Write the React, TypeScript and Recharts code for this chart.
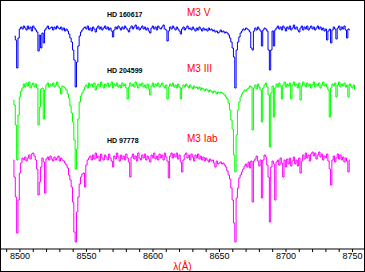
import { LineChart, Line, XAxis, YAxis } from 'recharts'

// wavelength range shown on the x axis (Angstrom)
const X_MIN = 8485
const X_MAX = 8759.4
const TICKS = [
  8490, 8500, 8510, 8520, 8530, 8540, 8550, 8560, 8570, 8580, 8590, 8600, 8610, 8620,
  8630, 8640, 8650, 8660, 8670, 8680, 8690, 8700, 8710, 8720, 8730, 8740, 8750,
]

// normalised flux, one value per Angstrom, starting at *_START
const BLUE_START = 8496
const BLUE_FLUX = [
  0.92, 0.88, 0.60, 0.90, 0.99, 1.01, 0.99, 1.02, 1.00, 0.98,
  1.02, 0.99, 1.01, 0.97, 1.02, 1.00, 0.98, 0.96, 0.77, 0.93,
  0.80, 0.95, 0.85, 0.98, 1.00, 1.02, 0.99, 1.00, 1.01, 0.98,
  1.01, 0.99, 1.02, 1.00, 0.99, 1.01, 0.98, 1.00, 0.97, 0.99,
  0.97, 0.94, 0.90, 0.86, 0.78, 0.68, 0.41, 0.66, 0.82, 0.92,
  0.96, 0.98, 1.00, 1.01, 0.99, 1.02, 0.98, 1.00, 0.97, 1.01,
  0.99, 0.96, 1.00, 1.02, 0.99, 1.01, 0.98, 1.00, 1.02, 0.99,
  1.01, 0.98, 1.00, 0.97, 0.91, 0.98, 1.01, 0.99, 1.02, 1.00,
  0.98, 1.01, 0.99, 1.02, 1.00, 0.98, 0.96, 1.00, 1.02, 0.99,
  1.01, 1.03, 0.99, 1.01, 0.98, 1.00, 1.02, 0.99, 1.01, 0.98,
  1.00, 0.97, 0.95, 1.00, 1.02, 0.99, 1.01, 0.98, 1.02, 1.00,
  0.99, 1.01, 1.03, 0.99, 0.98, 0.87, 0.97, 1.01, 0.99, 1.02,
  1.00, 0.98, 1.01, 0.99, 0.97, 0.94, 0.99, 1.01, 0.98, 1.00,
  1.02, 0.99, 1.00, 0.98, 1.01, 0.99, 0.97, 1.00, 0.98, 1.01,
  0.99, 0.97, 1.00, 0.98, 0.99, 0.97, 1.00, 0.98, 0.99, 0.97,
  0.98, 0.96, 0.97, 0.95, 0.96, 0.98, 0.96, 0.97, 0.95, 0.96,
  0.95, 0.93, 0.90, 0.86, 0.80, 0.71, 0.40, 0.78, 0.86, 0.91,
  0.95, 0.97, 0.99, 0.98, 1.00, 0.99, 0.98, 0.96, 0.80, 0.78,
  0.97, 1.00, 0.98, 1.01, 0.99, 0.97, 0.82, 0.98, 1.00, 0.99,
  0.97, 0.78, 0.58, 0.78, 0.97, 0.82, 0.98, 1.00, 1.02, 0.99,
  1.01, 0.98, 1.02, 1.00, 0.97, 1.01, 0.99, 1.02, 0.98, 1.00,
  1.03, 0.99, 1.01, 0.98, 0.96, 1.00, 1.02, 0.98, 1.01, 0.99,
  1.02, 0.98, 1.00, 1.02, 0.99, 1.01, 0.98, 1.00, 1.02, 0.99,
  1.01, 0.98, 1.00, 0.97, 0.99, 0.88, 0.97, 0.99, 0.85, 0.98,
  1.01, 0.99, 0.89, 1.00, 1.02, 0.98, 1.01, 0.99, 1.02, 0.98,
  0.90, 0.99, 0.98,
]

const GREEN_START = 8495
const GREEN_FLUX = [
  0.85, 0.80, 0.60, 0.25, 0.70, 0.88, 0.94, 0.97, 1.01, 0.98,
  1.02, 0.99, 1.03, 0.97, 1.00, 1.02, 0.98, 1.01, 0.97, 0.60,
  0.78, 0.96, 0.97, 0.66, 0.95, 1.00, 1.02, 0.98, 1.01, 0.99,
  1.02, 0.98, 1.00, 1.03, 0.99, 0.97, 0.91, 0.99, 0.98, 0.97,
  0.95, 0.91, 0.87, 0.79, 0.72, 0.63, 0.45, 0.16, 0.36, 0.66,
  0.83, 0.89, 0.92, 0.95, 0.98, 1.00, 0.97, 1.02, 0.99, 1.01,
  0.98, 1.02, 0.95, 0.99, 1.01, 0.98, 1.03, 1.00, 0.97, 1.01,
  0.99, 1.02, 0.98, 1.00, 1.03, 0.97, 1.01, 0.99, 1.02, 0.98,
  1.00, 0.97, 1.02, 0.99, 1.01, 0.97, 0.86, 0.98, 1.02, 0.99,
  1.01, 0.98, 1.03, 1.00, 0.97, 1.01, 0.99, 1.02, 0.98, 1.00,
  0.97, 1.01, 0.96, 0.90, 0.99, 1.02, 0.98, 1.01, 0.99, 1.02,
  0.98, 1.00, 1.02, 0.99, 0.97, 1.00, 0.86, 0.98, 1.01, 0.99,
  1.02, 0.98, 1.00, 0.97, 1.01, 0.98, 0.86, 0.97, 1.00, 0.98,
  1.01, 0.99, 0.97, 1.00, 0.98, 0.96, 0.99, 0.97, 0.98, 0.96,
  0.98, 0.95, 0.97, 0.96, 0.94, 0.96, 0.95, 0.93, 0.95, 0.94,
  0.92, 0.94, 0.93, 0.91, 0.93, 0.92, 0.93, 0.92, 0.91, 0.90,
  0.88, 0.86, 0.82, 0.75, 0.65, 0.56, 0.30, 0.13, 0.50, 0.75,
  0.83, 0.88, 0.91, 0.93, 0.95, 0.94, 0.96, 0.97, 0.99, 0.98,
  0.55, 0.97, 1.00, 0.96, 1.01, 0.98, 0.95, 0.63, 0.97, 1.00,
  1.02, 0.98, 0.90, 0.38, 0.92, 0.99, 0.68, 0.97, 1.01, 0.98,
  1.02, 0.99, 0.86, 1.00, 1.03, 0.98, 1.01, 0.99, 1.02, 0.86,
  1.00, 1.03, 0.99, 1.01, 0.97, 1.02, 0.85, 0.99, 1.03, 1.00,
  0.98, 1.02, 0.99, 1.01, 0.97, 1.00, 1.03, 0.98, 1.01, 0.99,
  1.02, 0.97, 1.00, 1.03, 0.99, 1.01, 0.98, 0.95, 0.68, 0.97,
  1.01, 0.99, 1.02, 0.88, 1.00, 1.03, 0.98, 1.01, 0.99, 1.02,
  0.98, 1.00, 0.88, 1.01, 0.99, 0.97, 1.00, 0.96,
]

const MAGENTA_START = 8495
const MAGENTA_FLUX = [
  0.97, 0.80, 0.60, 0.24, 0.57, 0.84, 0.94, 0.99, 0.97, 1.00,
  0.96, 0.99, 1.02, 0.98, 1.03, 1.04, 1.01, 0.97, 0.88, 0.62,
  0.75, 0.90, 0.99, 0.95, 0.64, 0.98, 1.00, 0.97, 1.01, 0.98,
  0.96, 1.00, 0.97, 0.99, 1.01, 0.96, 0.99, 0.97, 0.96, 0.94,
  0.92, 0.89, 0.82, 0.77, 0.70, 0.55, 0.25, 0.15, 0.45, 0.60,
  0.73, 0.80, 0.83, 0.84, 0.70, 0.92, 0.97, 0.99, 1.01, 0.97,
  1.02, 0.98, 1.04, 0.99, 1.01, 0.96, 1.03, 0.99, 0.97, 1.02,
  1.00, 0.97, 1.03, 0.99, 0.96, 0.90, 1.01, 0.98, 1.04, 1.00,
  0.96, 1.02, 0.98, 1.01, 0.97, 1.03, 0.99, 0.95, 0.80, 1.00,
  1.03, 0.98, 1.01, 0.96, 1.04, 0.99, 0.97, 1.02, 0.99, 1.03,
  0.97, 1.01, 0.98, 0.95, 1.02, 0.99, 1.04, 0.98, 1.01, 0.97,
  1.03, 0.99, 1.02, 0.97, 1.04, 1.00, 0.96, 0.79, 1.01, 1.04,
  0.99, 1.03, 1.00, 1.04, 0.98, 1.02, 0.95, 0.85, 0.97, 1.02,
  1.04, 0.99, 1.02, 0.97, 1.03, 1.00, 0.96, 1.02, 0.99, 1.03,
  0.98, 1.01, 0.97, 1.00, 0.96, 0.99, 0.97, 0.95, 0.98, 0.96,
  0.97, 0.94, 0.90, 0.96, 0.93, 0.94, 0.95, 0.93, 0.94, 0.92,
  0.90, 0.86, 0.82, 0.78, 0.69, 0.57, 0.34, 0.15, 0.59, 0.69,
  0.79, 0.82, 0.85, 0.88, 0.91, 0.93, 0.90, 0.95, 0.89, 0.96,
  0.55, 0.96, 0.98, 1.01, 0.96, 0.91, 0.97, 0.59, 0.97, 1.02,
  1.00, 0.92, 0.80, 0.35, 0.90, 0.96, 0.93, 0.57, 0.95, 0.97,
  0.92, 0.99, 0.94, 0.80, 0.97, 0.90, 0.98, 0.93, 0.99, 0.91,
  0.96, 1.00, 0.93, 0.97, 0.91, 0.99, 0.84, 0.96, 1.02, 0.98,
  1.04, 0.99, 1.02, 0.96, 1.03, 1.05, 1.01, 1.04, 0.98, 1.02,
  1.05, 1.00, 1.03, 0.97, 1.01, 0.99, 1.03, 0.96, 0.88, 0.72,
  0.97, 1.01, 0.95, 0.99, 1.03, 0.98, 1.02, 0.97, 1.00, 0.95,
  0.99, 0.96, 0.85, 0.97,
]

// vertical shifts so the three spectra are stacked
const BLUE_OFFSET = 1.29
const GREEN_OFFSET = 0.72
const MAGENTA_OFFSET = 0

const STARS = [
  { name: 'HD 160617', type: 'M3 V', top: 10.6, typeTop: 8 },
  { name: 'HD 204599', type: 'M3 III', top: 66.6, typeTop: 64 },
  { name: 'HD 97778', type: 'M3 Iab', top: 136.6, typeTop: 134 },
]

const pick = (arr: number[], start: number, lam: number, offset: number) => {
  const v = arr[lam - start]
  return v === undefined ? null : v + offset
}

const data: { lam: number; blue: number | null; green: number | null; magenta: number | null }[] = []
for (let lam = 8495; lam <= 8752; lam++) {
  data.push({
    lam,
    blue: pick(BLUE_FLUX, BLUE_START, lam, BLUE_OFFSET),
    green: pick(GREEN_FLUX, GREEN_START, lam, GREEN_OFFSET),
    magenta: pick(MAGENTA_FLUX, MAGENTA_START, lam, MAGENTA_OFFSET),
  })
}

const font = '"Liberation Sans", Arial, sans-serif'

export default function App() {
  return (
    <div style={{ position: 'relative', width: 365, height: 272, background: '#fff', fontFamily: font }}>
      <style>{`body{margin:0}`}</style>
      <LineChart width={365} height={272} data={data} margin={{ top: 0, right: 0, bottom: 0, left: 0 }}>
        <XAxis
          dataKey="lam"
          type="number"
          domain={[X_MIN, X_MAX]}
          allowDataOverflow
          ticks={TICKS}
          interval={0}
          tickSize={3}
          tickMargin={1}
          height={23}
          axisLine={{ stroke: '#000' }}
          tickLine={{ stroke: '#000' }}
          tick={{ fill: '#000', fontSize: 9, fontFamily: font }}
          tickFormatter={(v: number) => (v % 50 === 0 ? String(v) : '')}
        />
        <YAxis hide type="number" domain={[0.08, 2.57]} allowDataOverflow />
        <Line type="step" dataKey="blue" stroke="#0000ff" strokeWidth={1} dot={false} activeDot={false} isAnimationActive={false} />
        <Line type="step" dataKey="green" stroke="#00ff00" strokeWidth={1} dot={false} activeDot={false} isAnimationActive={false} />
        <Line type="step" dataKey="magenta" stroke="#ff00ff" strokeWidth={1} dot={false} activeDot={false} isAnimationActive={false} />
      </LineChart>
      {STARS.map((s) => (
        <div key={s.name}>
          <div style={{ position: 'absolute', left: 107, top: s.top, fontSize: 7, lineHeight: '7px', fontWeight: 'bold', color: '#000', whiteSpace: 'nowrap' }}>
            {s.name}
          </div>
          <div style={{ position: 'absolute', left: 187, top: s.typeTop, fontSize: 10, lineHeight: '10px', color: '#ff0000', whiteSpace: 'nowrap' }}>
            {s.type}
          </div>
        </div>
      ))}
      <div style={{ position: 'absolute', left: 0, width: 365, top: 262, textAlign: 'center', fontSize: 10, lineHeight: '10px', color: '#ff0000' }}>
        λ(Å)
      </div>
      <div style={{ position: 'absolute', left: 0, top: 0, width: 365, height: 272, border: '1px solid #000', boxSizing: 'border-box', pointerEvents: 'none' }} />
    </div>
  )
}
